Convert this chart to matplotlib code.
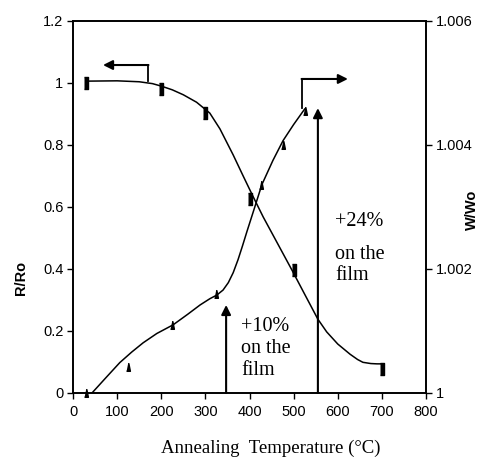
import matplotlib
matplotlib.use("Agg")
import matplotlib.pyplot as plt

# measured points (left axis: R/Ro, right axis: W/Wo)
temp_r = [30, 200, 300, 400, 500, 700]
r_ratio = [1.0, 0.98, 0.903, 0.625, 0.397, 0.077]

temp_w = [30, 125, 225, 325, 425, 475, 525]
w_ratio = [1.0, 1.00042, 1.0011, 1.0016, 1.00335, 1.0040, 1.00455]

# hand drawn trend curves
curve_r_x = [30, 100, 150, 180, 200, 225, 250, 280, 310, 333, 363, 385,
             408, 431, 458, 496, 526, 555, 575, 600, 628, 645, 657, 675,
             689, 700]
curve_r_y = [1.006, 1.007, 1.004, 0.998, 0.99, 0.978, 0.962, 0.938, 0.903,
             0.852, 0.768, 0.702, 0.634, 0.568, 0.497, 0.397, 0.316, 0.238,
             0.197, 0.158, 0.125, 0.108, 0.099, 0.095, 0.094, 0.094]

curve_w_x = [43, 75, 106, 133, 159, 190, 227, 260, 288, 310, 326, 340, 352,
             363, 374, 384, 394, 412, 428, 453, 476, 500, 525]
curve_w_y = [1.0, 1.00025, 1.00049, 1.00066, 1.00081, 1.00096, 1.0011,
             1.00127, 1.00142, 1.00152, 1.00158, 1.00166, 1.00178, 1.00194,
             1.00215, 1.00237, 1.0026, 1.003, 1.00336, 1.00375, 1.00407,
             1.00433, 1.00458]

x_ticks = [0, 100, 200, 300, 400, 500, 600, 700, 800]
left_ticks = [0, 0.2, 0.4, 0.6, 0.8, 1.0, 1.2]
left_labels = ["0", "0.2", "0.4", "0.6", "0.8", "1", "1.2"]
right_ticks = [1.0, 1.002, 1.004, 1.006]
right_labels = ["1", "1.002", "1.004", "1.006"]

sans = "Liberation Sans"
serif = "Liberation Serif"

fig = plt.figure(figsize=(4.8, 4.66), dpi=100)
ax = fig.add_axes([73 / 480, 1 - 393 / 466, 353 / 480, 372 / 466])
ax2 = ax.twinx()

bar_marker = [(-0.25, -1), (0.25, -1), (0.25, 1), (-0.25, 1)]
tri_marker = [(-0.5, -1), (0.5, -1), (0.1, 1), (-0.1, 1)]

ax.plot(curve_r_x, curve_r_y, color="black", lw=1.1)
ax.plot(temp_r, r_ratio, ls="none", marker=bar_marker, ms=9,
        color="black", clip_on=False)
ax2.plot(curve_w_x, curve_w_y, color="black", lw=1.1)
ax2.plot(temp_w, w_ratio, ls="none", marker=tri_marker, ms=5.5,
         color="black", clip_on=False)

ax.set_xlim(0, 800)
ax.set_ylim(0, 1.2)
ax2.set_ylim(1.0, 1.006)
ax.set_xticks(x_ticks)
ax.set_xticklabels([str(t) for t in x_ticks], fontfamily=sans, fontsize=10.5)
ax.set_yticks(left_ticks)
ax.set_yticklabels(left_labels, fontfamily=sans, fontsize=10.5)
ax2.set_yticks(right_ticks)
ax2.set_yticklabels(right_labels, fontfamily=sans, fontsize=10.5)

for a in (ax, ax2):
    for s in a.spines.values():
        s.set_linewidth(1.2)
ax.tick_params(axis="x", direction="out", length=4, width=1.0, pad=5)
ax.tick_params(axis="y", direction="out", length=4, width=1.0, pad=3)
ax2.tick_params(direction="out", length=4, width=1.0, pad=3)

ax.set_ylabel("R/Ro", fontfamily=sans, fontweight="bold", fontsize=10.5)
ax.yaxis.set_label_coords(-0.127, 0.31)
ax.set_xlabel("Annealing  Temperature (°C)", fontfamily=serif, fontsize=13.5)
ax.xaxis.set_label_coords(0.56, -0.125)
fig.text(479 / 480, 1 - 210 / 466, "W/Wo", rotation=90, ha="right",
         va="center", fontfamily=sans, fontweight="bold", fontsize=10.5)

arrow = dict(arrowstyle="-|>", color="black", lw=1.5, mutation_scale=14,
             shrinkA=0, shrinkB=0)

# elbow arrows pointing at each axis
ax.plot([170, 170], [1.006, 1.058], color="black", lw=1.3)
ax.annotate("", xy=(68, 1.058), xytext=(171, 1.058), arrowprops=arrow,
            annotation_clip=False)
ax.plot([519, 519], [0.919, 1.013], color="black", lw=1.3)
ax.annotate("", xy=(623, 1.013), xytext=(518, 1.013), arrowprops=arrow)

# film strain arrows
ax.annotate("", xy=(347, 0.284), xytext=(347, 0), arrowprops=arrow)
ax.annotate("", xy=(555, 0.919), xytext=(555, 0), arrowprops=arrow)

ax.text(381, 0.245, "+10%\non the\nfilm", fontfamily=serif, fontsize=14.5,
        va="top", ha="left", linespacing=1.2)
ax.text(594, 0.585, "+24%", fontfamily=serif, fontsize=14.5,
        va="top", ha="left")
ax.text(594, 0.478, "on the\nfilm", fontfamily=serif, fontsize=14.5,
        va="top", ha="left", linespacing=1.15)

fig.savefig("out.png", dpi=100)
